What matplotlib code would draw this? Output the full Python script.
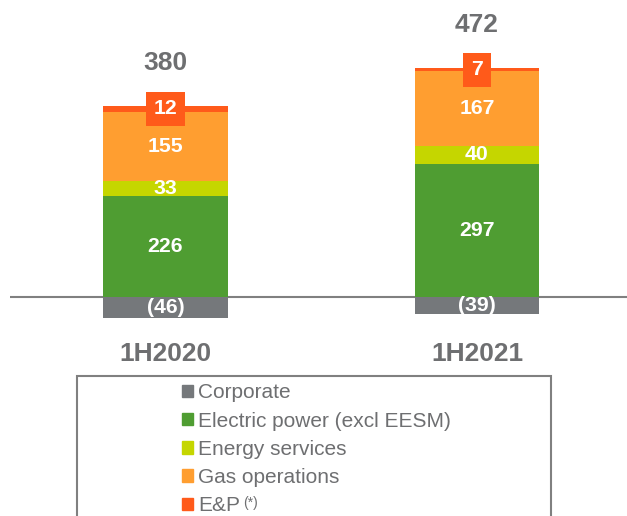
import matplotlib.pyplot as plt
from matplotlib.patches import Patch, Rectangle
from matplotlib.text import Annotation
import numpy as np

plt.rcParams['font.family'] = ['Liberation Sans', 'DejaVu Sans']

# data
periods = ['1H2020', '1H2021']
corporate = np.array([-46, -39])
electric = np.array([226, 297])
energy_services = np.array([33, 40])
gas_ops = np.array([155, 167])
e_and_p = np.array([12, 7])
totals = np.array([380, 472])

COLORS = {
    'corporate': '#75787B',
    'electric': '#4F9D32',
    'energy': '#C5D600',
    'gas': '#FF9E30',
    'ep': '#FF5A1A',
    'text': '#6E6F71',
}

fig = plt.figure(figsize=(6.27, 5.16), dpi=100)
ax = fig.add_axes([10 / 627, 0, 617 / 627, 1])
ax.set_axis_off()

x = np.arange(len(periods))
width = 0.401
VAL_FS = 15.3

# corporate (negative) below zero
ax.bar(x, corporate, width, color=COLORS['corporate'])
for xi, v in zip(x, corporate):
    ax.text(xi, v / 2, f'({abs(v)})', ha='center', va='center',
            fontsize=VAL_FS, fontweight='bold', color='white')

# positive stack
bottom = np.zeros(len(periods))
for vals, key in [(electric, 'electric'), (energy_services, 'energy'), (gas_ops, 'gas')]:
    ax.bar(x, vals, width, bottom=bottom, color=COLORS[key])
    for xi, b, v in zip(x, bottom, vals):
        ax.text(xi, b + v / 2, f'{v}', ha='center', va='center',
                fontsize=VAL_FS, fontweight='bold', color='white')
    bottom = bottom + vals

ax.bar(x, e_and_p, width, bottom=bottom, color=COLORS['ep'])
for xi, b, v in zip(x, bottom, e_and_p):
    ax.text(xi, b + v / 2, f'{v}', ha='center', va='center',
            fontsize=VAL_FS, fontweight='bold', color='white',
            bbox=dict(boxstyle='square,pad=0.36', facecolor=COLORS['ep'], edgecolor='none'))
bottom = bottom + e_and_p

# totals
for xi, top, t in zip(x, bottom, totals):
    ax.text(xi, top + 96, f'{t}', ha='center', va='center',
            fontsize=19, fontweight='bold', color=COLORS['text'])

# category labels
for xi, p in zip(x, periods):
    ax.text(xi, -128, p, ha='center', va='center',
            fontsize=19, fontweight='bold', color=COLORS['text'])

ax.axhline(0, color='#808080', linewidth=1.5, zorder=0.5)
ax.set_xlim(-0.499, 1.4815)
ax.set_ylim(-489, 663)

# legend box
fig.patches.append(Rectangle((77 / 627, -0.1), (551 - 77) / 627, (516 - 376) / 516 + 0.1,
                             transform=fig.transFigure, fill=False,
                             edgecolor='#808080', linewidth=1.5))
handles = [Patch(color=COLORS[k]) for k in ['corporate', 'electric', 'energy', 'gas', 'ep']]
labels = ['Corporate', 'Electric power (excl EESM)', 'Energy services',
          'Gas operations', 'E&P']
leg = fig.legend(handles, labels, loc='upper left', bbox_to_anchor=(172 / 627, 1 - 373 / 516),
                 frameon=False, fontsize=15, labelcolor=COLORS['text'],
                 handlelength=0.53, handleheight=0.53, handletextpad=0.24,
                 labelspacing=0.44, borderpad=0)
star = Annotation('(*)', xy=(1, 1), xycoords=leg.get_texts()[-1], xytext=(2, 0),
                  textcoords='offset points', ha='left', va='top',
                  fontsize=10, color=COLORS['text'], annotation_clip=False)
star.set_zorder(10)
fig.add_artist(star)

fig.savefig('out.png', dpi=100)
